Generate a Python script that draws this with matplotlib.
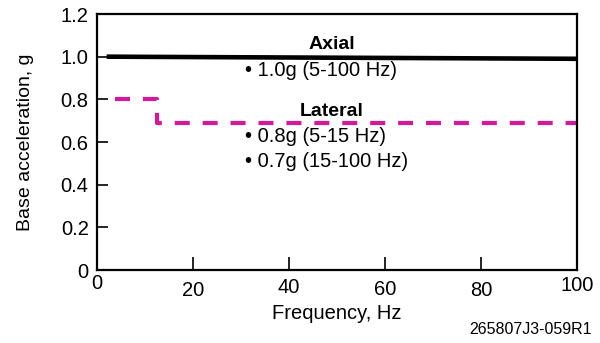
import matplotlib.pyplot as plt

plt.rcParams['font.family'] = ['Liberation Sans', 'DejaVu Sans']

# axial spec, as drawn
axial_f = [2, 100]
axial_g = [1.0, 0.99]

# lateral spec, step as drawn
lateral_f = [3.75, 12.5, 12.5, 100]
lateral_g = [0.8, 0.8, 0.69, 0.69]

xticks = [0, 20, 40, 60, 80, 100]
xtick_labels = ['0', '20', '40', '60', '80', '100']
yticks = [0, 0.2, 0.4, 0.6, 0.8, 1.0, 1.2]
ytick_labels = ['0', '0.2', '0.4', '0.6', '0.8', '1.0', '1.2']

fig = plt.figure(figsize=(6, 3.43), dpi=100)
ax = fig.add_axes([97 / 600, 1 - 270 / 343, 480 / 600, 256 / 343])

ax.plot(axial_f, axial_g, color='black', lw=3.3, solid_capstyle='butt')
ax.plot(lateral_f, lateral_g, color='#d4189c', lw=3.0, dashes=(3.6, 3.1))

ax.set_xlim(0, 100)
ax.set_ylim(0, 1.2)
ax.set_xticks(xticks)
ax.set_xticklabels(xtick_labels)
ax.set_yticks(yticks)
ax.set_yticklabels(ytick_labels)
ax.tick_params(direction='in', labelsize=14.5, color='black', width=1.2)
ax.tick_params(axis='x', length=9.5)
ax.tick_params(axis='y', length=8, pad=6)
for sp in ax.spines.values():
    sp.set_linewidth(1.6)

# the original's x labels sit at uneven heights
for tk, p in zip(ax.xaxis.get_major_ticks(), [3, 8, 6, 7, 8, 4]):
    tk.set_pad(p)

ax.set_xlabel('Frequency, Hz', fontsize=14.5, labelpad=3)
ax.set_ylabel('Base acceleration, g', fontsize=14, labelpad=19)

ax.text(44, 1.055, 'Axial', fontsize=14, fontweight='bold', va='center')
ax.text(30.8, 0.934, '\u2022 1.0g (5-100 Hz)', fontsize=14.5, va='center')
ax.text(42.3, 0.742, 'Lateral', fontsize=14, fontweight='bold', va='center')
ax.text(30.8, 0.624, '\u2022 0.8g (5-15 Hz)', fontsize=14.5, va='center')
ax.text(30.8, 0.507, '\u2022 0.7g (15-100 Hz)', fontsize=14.5, va='center')

fig.text(0.987, 1 - 329 / 343, '265807J3-059R1', fontsize=11.5, ha='right', va='center')

fig.savefig('out.png', dpi=100)
